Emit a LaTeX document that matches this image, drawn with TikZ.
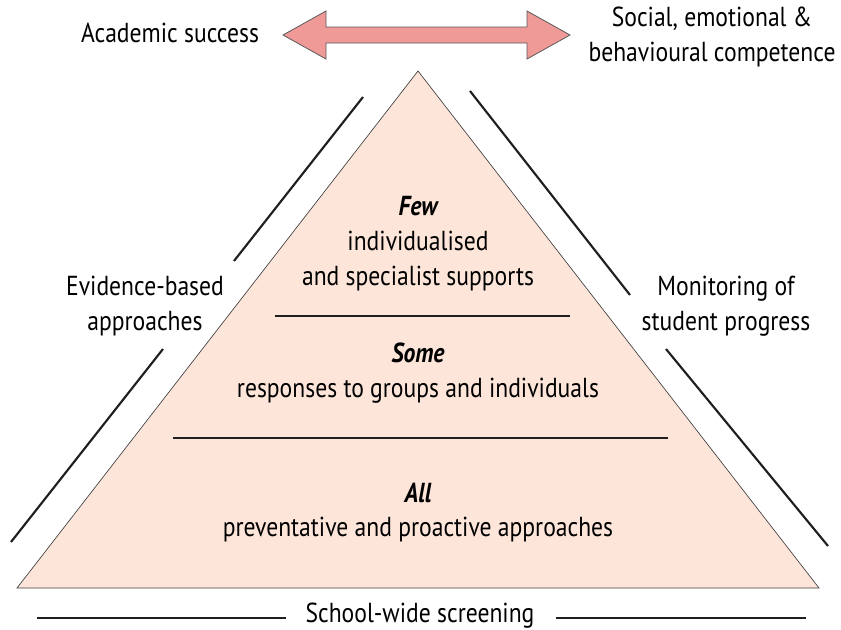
\documentclass[tikz,border=0pt]{standalone}
\usepackage{fontspec}
\setmainfont[FakeStretch=0.86]{PT Sans}
\begin{document}
\begin{tikzpicture}[x=0.75pt,y=-0.75pt,
  lbl/.style={inner sep=0pt,anchor=base,font=\fontsize{20.6}{24}\selectfont},
  bar/.style={line width=1.6pt,draw=black!88},
  tri/.style={fill=peach,draw=black!75,line width=0.5pt},
  dblarrow/.style={fill=rosearrow,draw=black!65,line width=0.6pt}]
\definecolor{peach}{HTML}{FDE5D9}
\definecolor{rosearrow}{HTML}{F09A98}
\useasboundingbox (0,0) rectangle (841,629);
% triangle
\coordinate (apex) at (418,71);
\coordinate (bl) at (17,588);
\coordinate (br) at (819,588);
\draw[tri] (apex) -- (bl) -- (br) -- cycle;
% double arrow
\draw[dblarrow] (283,35) -- (326,11) -- (326,27) -- (527,27) -- (527,11) -- (570,35)
  -- (527,59) -- (527,43) -- (326,43) -- (326,59) -- cycle;
% dividers
\draw[bar] (275,316) -- (570,316);
\draw[bar] (173,438) -- (668,438);
% side lines
\draw[bar] (363,97) -- (234,261);
\draw[bar] (163,349) -- (11,542);
\draw[bar] (470,91) -- (630,295);
\draw[bar] (666,349) -- (828,546);
% bottom lines
\draw[bar] (37,618) -- (286,618);
\draw[bar] (556,618) -- (806,618);
% texts
\node[lbl] (acad) at (170,42) {Academic success};
\node[lbl] (soc1) at (712,26) {Social, emotional \&};
\node[lbl] (soc2) at (712,61) {behavioural competence};
\node[lbl] (ev1) at (145,295) {Evidence-based};
\node[lbl] (ev2) at (145,330) {approaches};
\node[lbl] (mon1) at (726,295) {Monitoring of};
\node[lbl] (mon2) at (726,330) {student progress};
\node[lbl] (few) at (418,215) {\bfseries\itshape Few};
\node[lbl] (few2) at (418,250) {individualised};
\node[lbl] (few3) at (418,285) {and specialist supports};
\node[lbl] (some) at (418,362) {\bfseries\itshape Some};
\node[lbl] (some2) at (418,397) {responses to groups and individuals};
\node[lbl] (all) at (418,502) {\bfseries\itshape All};
\node[lbl] (all2) at (418,536) {preventative and proactive approaches};
\node[lbl] (screen) at (420,622) {School-wide screening};
\end{tikzpicture}
\end{document}
